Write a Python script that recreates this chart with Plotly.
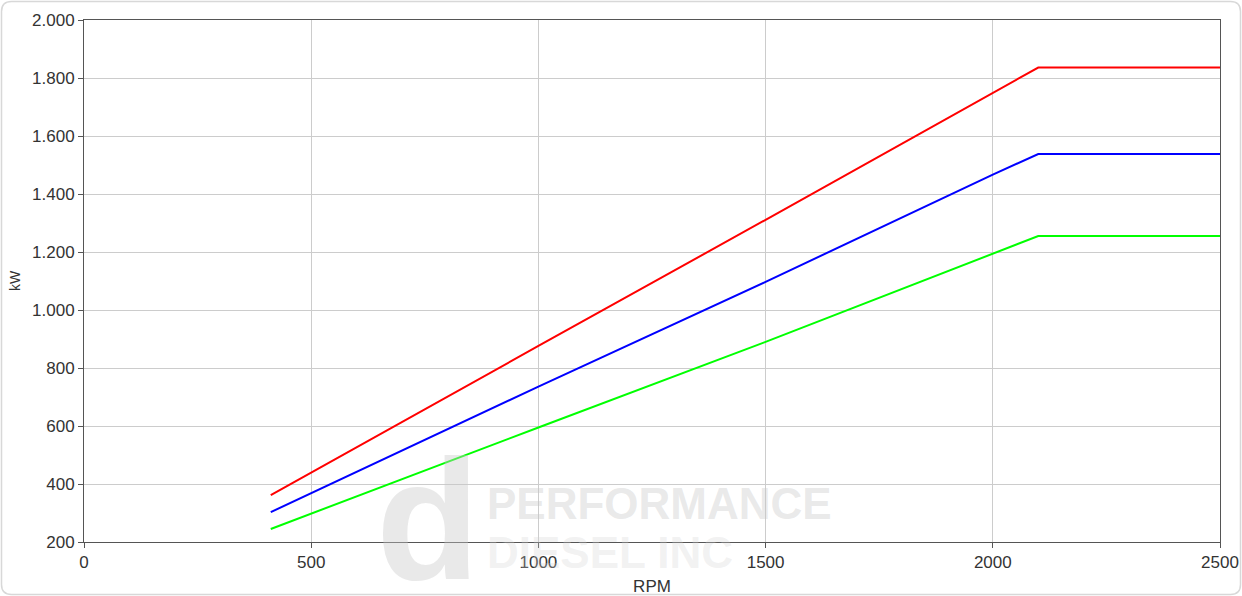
import plotly.graph_objects as go

rpm = [411, 500, 1000, 1500, 2000, 2100, 2500]
red_kw = [362, 440, 876, 1311, 1749, 1836, 1836]
blue_kw = [303, 368, 736, 1097, 1467, 1538, 1538]
green_kw = [245, 298, 595, 890, 1196, 1255, 1255]

series = [("Red", red_kw, "#ff0000"), ("Blue", blue_kw, "#0000ff"), ("Green", green_kw, "#00ff00")]

fig = go.Figure()
for name, vals, col in series:
    fig.add_trace(go.Scatter(x=rpm, y=vals, mode="lines", name=name,
                             line=dict(color=col, width=2), showlegend=False))

W, H = 1242, 596
L, R, T, B = 84, 22, 20, 54
pw, ph = W - L - R, H - T - B

def px(xp):
    return (xp - L) / pw

def py(yp):
    return 1 - (yp - T) / ph

# watermark
wm = "rgba(200,200,200,0.4)"
fig.add_annotation(x=px(428), y=py(520), xref="paper", yref="paper", text="<b>d</b>",
                   showarrow=False, font=dict(family="Liberation Sans", size=170, color=wm),
                   xanchor="center", yanchor="middle")
fig.add_annotation(x=px(485), y=py(503), xref="paper", yref="paper", text="<b>PERFORMANCE</b>",
                   showarrow=False, font=dict(family="Liberation Sans", size=44, color=wm),
                   xanchor="left", yanchor="middle")
fig.add_annotation(x=px(485), y=py(552), xref="paper", yref="paper", text="<b>DIESEL INC</b>",
                   showarrow=False, font=dict(family="Liberation Sans", size=44, color="rgba(210,210,210,0.3)"),
                   xanchor="left", yanchor="middle")

# outer rounded border
x0, x1 = px(1.5), px(1240.5)
y0, y1 = py(594.5), py(1.5)
rx, ry = 10 / pw, 10 / ph
path = (f"M {x0+rx},{y1} L {x1-rx},{y1} Q {x1},{y1} {x1},{y1-ry} L {x1},{y0+ry} "
        f"Q {x1},{y0} {x1-rx},{y0} L {x0+rx},{y0} Q {x0},{y0} {x0},{y0+ry} "
        f"L {x0},{y1-ry} Q {x0},{y1} {x0+rx},{y1} Z")
fig.add_shape(type="path", path=path, xref="paper", yref="paper",
              line=dict(color="#d8d8d8", width=1.5), layer="below")

axis_font = dict(family="Liberation Sans", size=17, color="#333333")
fig.update_layout(
    width=W, height=H,
    margin=dict(l=L, r=R, t=T, b=B, autoexpand=False),
    paper_bgcolor="white", plot_bgcolor="white",
    separators=",.",
    xaxis=dict(range=[0, 2500], dtick=500, tick0=0, showgrid=True, gridcolor="#cccccc",
               showline=True, linecolor="#555555", mirror=True, ticks="outside",
               ticklen=5, tickcolor="#555555", tickfont=axis_font, zeroline=False,
               automargin=False,
               title=dict(text="RPM", font=axis_font, standoff=8)),
    yaxis=dict(range=[200, 2000], dtick=200, tick0=200, showgrid=True, gridcolor="#cccccc",
               showline=True, linecolor="#555555", mirror=True, ticks="outside",
               ticklen=5, tickcolor="#555555", tickfont=axis_font, tickformat=",d",
               zeroline=False, automargin=False,
               title=dict(text="kW", font=dict(family="Liberation Sans", size=14, color="#333333"), standoff=8)),
)

fig.write_html("out.html", config={"displayModeBar": False},
               post_script="document.body.style.margin='0';document.body.style.overflow='hidden';")
